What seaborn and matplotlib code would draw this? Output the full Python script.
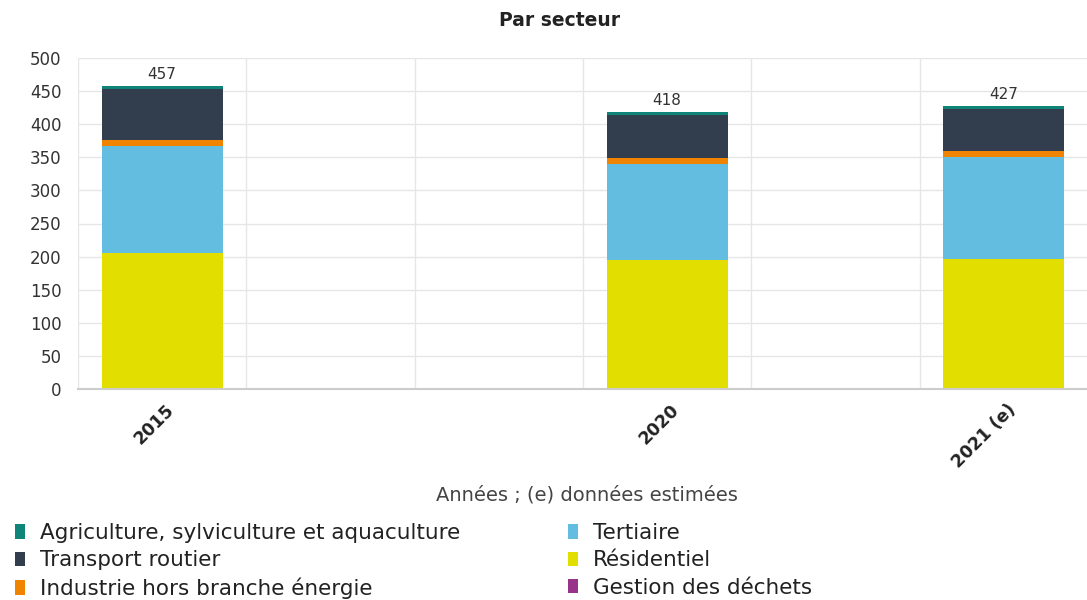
import matplotlib
matplotlib.use("Agg")
import matplotlib.pyplot as plt
import seaborn as sns
import pandas as pd
import numpy as np
from matplotlib.patches import Patch

# ---- data ----
years = ["2015", "2020", "2021 (e)"]
slots = ["2015", "2016", "2018", "2020", "2019", "2021 (e)"]  # empty slots keep the original spacing
gestion_dechets = [0.5, 0.5, 0.5]
residentiel = [205, 194, 196]
tertiaire = [161, 145, 154]
industrie = [10, 9, 8.5]
transport = [77, 65, 64]
agriculture = [3.5, 4.5, 4]
totals = [457, 418, 427]

series_names = ["Gestion des déchets", "Résidentiel", "Tertiaire",
                "Industrie hors branche énergie", "Transport routier",
                "Agriculture, sylviculture et aquaculture"]
series_values = [gestion_dechets, residentiel, tertiaire, industrie, transport, agriculture]
colors = {
    "Agriculture, sylviculture et aquaculture": "#0f8478",
    "Transport routier": "#323e4e",
    "Industrie hors branche énergie": "#f08300",
    "Tertiaire": "#63bde0",
    "Résidentiel": "#e2de00",
    "Gestion des déchets": "#973389",
}
legend_order = ["Agriculture, sylviculture et aquaculture", "Transport routier",
                "Industrie hors branche énergie", "Tertiaire", "Résidentiel",
                "Gestion des déchets"]

sns.set_theme(style="white")
plt.rcParams["font.family"] = ["DejaVu Sans"]

cum = np.zeros(len(years))
cums = []
for name, vals in zip(series_names, series_values):
    cum = cum + np.array(vals, dtype=float)
    cums.append((name, cum.copy()))

fig = plt.figure(figsize=(10.87, 6.0), dpi=100)
ax = fig.add_axes([78 / 1087, 1 - 389 / 600, 1010 / 1087, 331 / 600])

# draw from the top cumulative layer down so lower layers cover upper ones
for name, c in reversed(cums):
    d = pd.DataFrame({"year": years, "value": c})
    sns.barplot(data=d, x="year", y="value", order=slots, color=colors[name],
                width=0.72, saturation=1, linewidth=0, ax=ax)

# totals above bars
for y, t in zip(years, totals):
    xpos = slots.index(y)
    ax.text(xpos, t + 7, f"{t}", ha="center", va="bottom", fontsize=11, color="#333333")

ax.set_ylim(0, 500)
ax.set_xlim(-0.5, len(slots) - 0.5)
ax.set_yticks(np.arange(0, 501, 50))
ax.yaxis.grid(True, color="#e6e6e6", linewidth=1)
ax.set_axisbelow(True)
ax.set_xticks(np.arange(-0.5, len(slots) - 0.4, 1.0), minor=True)
ax.xaxis.grid(True, which="minor", color="#e6e6e6", linewidth=1)
ax.tick_params(axis="x", which="minor", length=9, color="#e6e6e6", width=1, direction="out")
ax.tick_params(axis="x", which="major", length=0, pad=4)
ax.tick_params(axis="y", length=0, pad=12, labelsize=12, labelcolor="#333333")
ax.set_xticks(range(len(slots)))
ax.set_xticklabels([s if s in years else "" for s in slots], rotation=45,
                   ha="right", rotation_mode="anchor", fontsize=12.5,
                   fontweight="bold", color="#222222")
for lbl in ax.get_xticklabels():
    lbl.set_transform(lbl.get_transform() + matplotlib.transforms.ScaledTranslation(3 / 100, -6 / 100, fig.dpi_scale_trans))
for s in ["top", "right", "left"]:
    ax.spines[s].set_visible(False)
ax.spines["bottom"].set_color("#cccccc")
ax.spines["bottom"].set_linewidth(1.5)
ax.set_ylabel("")
ax.set_xlabel("")

fig.text(560 / 1087, 1 - 20 / 600, "Par secteur", ha="center", va="center",
         fontsize=13.5, fontweight="bold", color="#222222")
fig.text(587 / 1087, 1 - 495 / 600, "Années ; (e) données estimées", ha="center",
         va="center", fontsize=14, color="#444444")

handles = [Patch(facecolor=colors[n], edgecolor="none") for n in legend_order]
fig.legend(handles, legend_order, loc="upper left", bbox_to_anchor=(0.0, 1 - 508 / 600),
           ncol=2, frameon=False, fontsize=15.5, handlelength=0.47, handleheight=0.65,
           handletextpad=0.7, columnspacing=5.0, labelspacing=0.34,
           labelcolor="#222222", borderaxespad=0.3)

fig.savefig("out.png", dpi=100)
